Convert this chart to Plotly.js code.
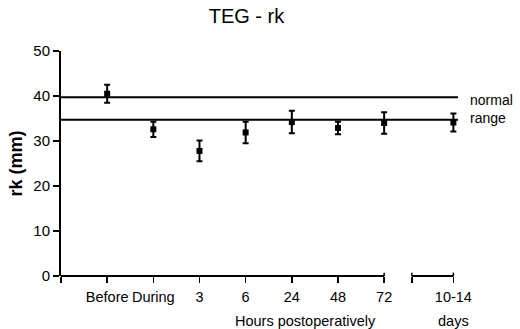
<!DOCTYPE html>
<html>
<head>
<meta charset="utf-8">
<script src="https://cdn.plot.ly/plotly-3.0.1.min.js"></script>
<style>html,body{margin:0;padding:0;background:#fff;}#chart{width:520px;height:329px;}</style>
</head>
<body>
<div id="chart"></div>
<script>
const categories = ['Before', 'During', '3', '6', '24', '48', '72', '10-14'];
const rkMean = [40.5, 32.6, 27.8, 31.9, 34.2, 32.9, 34.0, 34.1];
const rkErr = [2.0, 1.7, 2.3, 2.4, 2.5, 1.4, 2.4, 2.0];
const normalRange = [34.7, 39.7];
const yTicks = [0, 10, 20, 30, 40, 50];

// hours points sit one unit apart; the "days" point is set apart after a break
const xpos = categories.map((c, i) => i < 7 ? i + 1 : i + 1.5);
const font = 'Liberation Sans, Arial, sans-serif';

const trace = {
  x: xpos, y: rkMean, type: 'scatter', mode: 'markers',
  marker: {symbol: 'square', size: 6, color: '#000'},
  error_y: {type: 'data', array: rkErr, visible: true, color: '#000', thickness: 2, width: 3},
  cliponaxis: false, showlegend: false, hoverinfo: 'skip'
};

const tickvals = [0].concat(xpos, [7.6]);
const ticktext = [''].concat(categories, ['']);

const shapes = [
  {type: 'line', xref: 'x', yref: 'paper', x0: 0, x1: 7, y0: 0, y1: 0, line: {color: '#000', width: 2}},
  {type: 'line', xref: 'x', yref: 'paper', x0: 7.6, x1: 8.5, y0: 0, y1: 0, line: {color: '#000', width: 2}},
  {type: 'line', xref: 'x', yref: 'paper', x0: 7, x1: 7, y0: 0, y1: 0.015, line: {color: '#000', width: 1.5}},
  {type: 'line', xref: 'x', yref: 'paper', x0: 7.6, x1: 7.6, y0: 0, y1: 0.015, line: {color: '#000', width: 1.5}},
  {type: 'line', xref: 'x', yref: 'paper', x0: 8.5, x1: 8.5, y0: 0, y1: 0.015, line: {color: '#000', width: 1.5}}
].concat(normalRange.map(v => ({
  type: 'line', xref: 'paper', yref: 'y', x0: 0, x1: 1, y0: v, y1: v, line: {color: '#000', width: 2}
})));

const layout = {
  width: 520, height: 329,
  margin: {l: 61, r: 62, t: 51, b: 53},
  paper_bgcolor: '#fff', plot_bgcolor: '#fff',
  font: {family: font, color: '#000', size: 15},
  title: {text: 'TEG - rk', x: 0.474, xanchor: 'center', y: 0.95, yanchor: 'middle', font: {family: font, size: 20, color: '#000'}},
  xaxis: {
    range: [0, 8.6], showgrid: false, zeroline: false, showline: false,
    tickmode: 'array', tickvals: tickvals, ticktext: ticktext, tickangle: 0,
    ticks: 'outside', ticklen: 6, tickwidth: 1.5, tickcolor: '#000',
    tickfont: {family: font, size: 14.5, color: '#000'}, ticklabelstandoff: 2
  },
  yaxis: {
    range: [0, 50], showgrid: false, zeroline: false,
    showline: true, linecolor: '#000', linewidth: 2,
    tickmode: 'array', tickvals: yTicks,
    ticks: 'outside', ticklen: 6, tickwidth: 1.5, tickcolor: '#000',
    tickfont: {family: font, size: 15, color: '#000'},
    title: {text: '<b>rk (mm)</b>', font: {family: font, size: 18, color: '#000'}, standoff: 6}
  },
  shapes: shapes,
  annotations: [
    {xref: 'paper', yref: 'y', x: 1.025, y: 37.2, xanchor: 'left', yanchor: 'middle', showarrow: false,
     text: 'normal<br>range', align: 'left', font: {family: font, size: 14, color: '#000'}},
    {xref: 'x', yref: 'paper', x: 5.3, y: -0.2, xanchor: 'center', yanchor: 'middle', showarrow: false,
     text: 'Hours postoperatively', font: {family: font, size: 14.5, color: '#000'}},
    {xref: 'x', yref: 'paper', x: 8.5, y: -0.2, xanchor: 'center', yanchor: 'middle', showarrow: false,
     text: 'days', font: {family: font, size: 14.5, color: '#000'}}
  ]
};

Plotly.newPlot('chart', [trace], layout, {staticPlot: true, displayModeBar: false});
</script>
</body>
</html>
